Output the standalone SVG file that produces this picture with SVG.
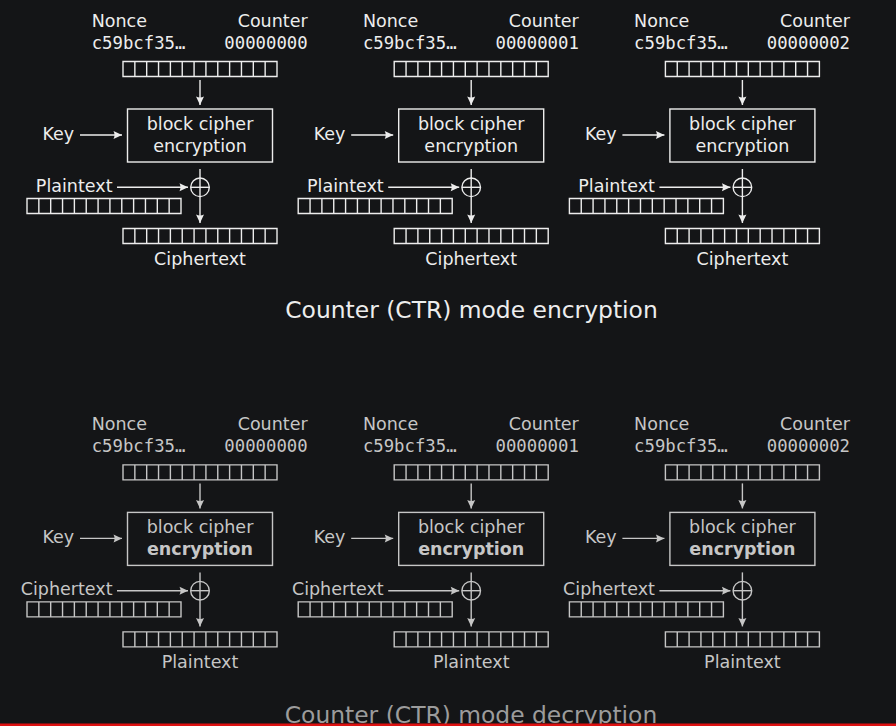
<svg xmlns="http://www.w3.org/2000/svg" xmlns:xlink="http://www.w3.org/1999/xlink" width="896" height="726" viewBox="0 0 896 726">
<style>
text{font-family:"DejaVu Sans","Noto Sans",sans-serif;font-size:17.5px}
.mono{font-family:"DejaVu Sans Mono","Liberation Mono",monospace;font-size:17.3px}
.mid{text-anchor:middle}
.end{text-anchor:end}
.top text{fill:#ededed}
.bot text{fill:#c6c6c6}
.top .ln{stroke:#ededed}
.bot .ln{stroke:#c6c6c6}
.ln{fill:none;stroke-width:1.4}
.title{font-size:23.4px;text-anchor:middle}
.b{font-weight:bold}
</style>
<defs>
<marker id="aT" viewBox="-9 -5 10 10" refX="0" refY="0" markerWidth="10" markerHeight="10" markerUnits="userSpaceOnUse" orient="auto"><path d="M0,0 L-8.5,-4 Q-6.5,0 -8.5,4 Z" fill="#ededed"/></marker>
<marker id="aB" viewBox="-9 -5 10 10" refX="0" refY="0" markerWidth="10" markerHeight="10" markerUnits="userSpaceOnUse" orient="auto"><path d="M0,0 L-8.5,-4 Q-6.5,0 -8.5,4 Z" fill="#c6c6c6"/></marker>
<path id="grid" d="M0,0H154V15H0Z M11.85,0V15 M23.69,0V15 M35.54,0V15 M47.38,0V15 M59.23,0V15 M71.08,0V15 M82.92,0V15 M94.77,0V15 M106.62,0V15 M118.46,0V15 M130.31,0V15 M142.15,0V15"/>
</defs>
<rect width="896" height="726" fill="#141517"/>

<!-- ===== Encryption ===== -->
<g class="top">
<g id="enc1" transform="translate(200,0)">
 <g id="enc1-counter"><text x="-108.3" y="26.7">Nonce</text><text class="end" x="107.6" y="26.7">Counter</text><text class="mono" x="-108.3" y="49">c59bcf35…</text><text class="mono end" x="107.6" y="49">00000000</text><use xlink:href="#grid" class="ln" transform="translate(-77,61.5)"/></g>
 <g id="enc1-cipher"><rect class="ln" x="-72.5" y="109" width="145" height="53"/><text class="mid" x="0" y="130">block cipher</text><text class="mid" x="0" y="151.5">encryption</text></g>
 <g id="enc1-key"><text x="-157.5" y="140">Key</text></g>
 <g id="enc1-in"><text class="end" x="-87.5" y="191.7">Plaintext</text><use xlink:href="#grid" class="ln" transform="translate(-173,198.5)"/></g>
 <g id="enc1-xor"><circle class="ln" cx="0" cy="187.3" r="9.3"/><path class="ln" d="M-9.3,187.3H9.3"/></g>
 <g id="enc1-out"><use xlink:href="#grid" class="ln" transform="translate(-77,228.5)"/><text class="mid" x="0" y="265">Ciphertext</text></g>
</g>
<g id="enc2" transform="translate(471.2,0)">
 <g id="enc2-counter"><text x="-108.3" y="26.7">Nonce</text><text class="end" x="107.6" y="26.7">Counter</text><text class="mono" x="-108.3" y="49">c59bcf35…</text><text class="mono end" x="107.6" y="49">00000001</text><use xlink:href="#grid" class="ln" transform="translate(-77,61.5)"/></g>
 <g id="enc2-cipher"><rect class="ln" x="-72.5" y="109" width="145" height="53"/><text class="mid" x="0" y="130">block cipher</text><text class="mid" x="0" y="151.5">encryption</text></g>
 <g id="enc2-key"><text x="-157.5" y="140">Key</text></g>
 <g id="enc2-in"><text class="end" x="-87.5" y="191.7">Plaintext</text><use xlink:href="#grid" class="ln" transform="translate(-173,198.5)"/></g>
 <g id="enc2-xor"><circle class="ln" cx="0" cy="187.3" r="9.3"/><path class="ln" d="M-9.3,187.3H9.3"/></g>
 <g id="enc2-out"><use xlink:href="#grid" class="ln" transform="translate(-77,228.5)"/><text class="mid" x="0" y="265">Ciphertext</text></g>
</g>
<g id="enc3" transform="translate(742.4,0)">
 <g id="enc3-counter"><text x="-108.3" y="26.7">Nonce</text><text class="end" x="107.6" y="26.7">Counter</text><text class="mono" x="-108.3" y="49">c59bcf35…</text><text class="mono end" x="107.6" y="49">00000002</text><use xlink:href="#grid" class="ln" transform="translate(-77,61.5)"/></g>
 <g id="enc3-cipher"><rect class="ln" x="-72.5" y="109" width="145" height="53"/><text class="mid" x="0" y="130">block cipher</text><text class="mid" x="0" y="151.5">encryption</text></g>
 <g id="enc3-key"><text x="-157.5" y="140">Key</text></g>
 <g id="enc3-in"><text class="end" x="-87.5" y="191.7">Plaintext</text><use xlink:href="#grid" class="ln" transform="translate(-173,198.5)"/></g>
 <g id="enc3-xor"><circle class="ln" cx="0" cy="187.3" r="9.3"/><path class="ln" d="M-9.3,187.3H9.3"/></g>
 <g id="enc3-out"><use xlink:href="#grid" class="ln" transform="translate(-77,228.5)"/><text class="mid" x="0" y="265">Ciphertext</text></g>
</g>
<g id="enc-title"><text class="title" x="471.5" y="318.3">Counter (CTR) mode encryption</text></g>
</g>

<!-- ===== Decryption ===== -->
<g class="bot">
<g id="dec1" transform="translate(200,403.4)">
 <g id="dec1-counter"><text x="-108.3" y="26.7">Nonce</text><text class="end" x="107.6" y="26.7">Counter</text><text class="mono" x="-108.3" y="49">c59bcf35…</text><text class="mono end" x="107.6" y="49">00000000</text><use xlink:href="#grid" class="ln" transform="translate(-77,61.5)"/></g>
 <g id="dec1-cipher"><rect class="ln" x="-72.5" y="109" width="145" height="53"/><text class="mid" x="0" y="130">block cipher</text><text class="mid b" x="0" y="151.5">encryption</text></g>
 <g id="dec1-key"><text x="-157.5" y="140">Key</text></g>
 <g id="dec1-in"><text class="end" x="-87.5" y="191.7">Ciphertext</text><use xlink:href="#grid" class="ln" transform="translate(-173,198.5)"/></g>
 <g id="dec1-xor"><circle class="ln" cx="0" cy="187.3" r="9.3"/><path class="ln" d="M-9.3,187.3H9.3"/></g>
 <g id="dec1-out"><use xlink:href="#grid" class="ln" transform="translate(-77,228.5)"/><text class="mid" x="0" y="265">Plaintext</text></g>
</g>
<g id="dec2" transform="translate(471.2,403.4)">
 <g id="dec2-counter"><text x="-108.3" y="26.7">Nonce</text><text class="end" x="107.6" y="26.7">Counter</text><text class="mono" x="-108.3" y="49">c59bcf35…</text><text class="mono end" x="107.6" y="49">00000001</text><use xlink:href="#grid" class="ln" transform="translate(-77,61.5)"/></g>
 <g id="dec2-cipher"><rect class="ln" x="-72.5" y="109" width="145" height="53"/><text class="mid" x="0" y="130">block cipher</text><text class="mid b" x="0" y="151.5">encryption</text></g>
 <g id="dec2-key"><text x="-157.5" y="140">Key</text></g>
 <g id="dec2-in"><text class="end" x="-87.5" y="191.7">Ciphertext</text><use xlink:href="#grid" class="ln" transform="translate(-173,198.5)"/></g>
 <g id="dec2-xor"><circle class="ln" cx="0" cy="187.3" r="9.3"/><path class="ln" d="M-9.3,187.3H9.3"/></g>
 <g id="dec2-out"><use xlink:href="#grid" class="ln" transform="translate(-77,228.5)"/><text class="mid" x="0" y="265">Plaintext</text></g>
</g>
<g id="dec3" transform="translate(742.4,403.4)">
 <g id="dec3-counter"><text x="-108.3" y="26.7">Nonce</text><text class="end" x="107.6" y="26.7">Counter</text><text class="mono" x="-108.3" y="49">c59bcf35…</text><text class="mono end" x="107.6" y="49">00000002</text><use xlink:href="#grid" class="ln" transform="translate(-77,61.5)"/></g>
 <g id="dec3-cipher"><rect class="ln" x="-72.5" y="109" width="145" height="53"/><text class="mid" x="0" y="130">block cipher</text><text class="mid b" x="0" y="151.5">encryption</text></g>
 <g id="dec3-key"><text x="-157.5" y="140">Key</text></g>
 <g id="dec3-in"><text class="end" x="-87.5" y="191.7">Ciphertext</text><use xlink:href="#grid" class="ln" transform="translate(-173,198.5)"/></g>
 <g id="dec3-xor"><circle class="ln" cx="0" cy="187.3" r="9.3"/><path class="ln" d="M-9.3,187.3H9.3"/></g>
 <g id="dec3-out"><use xlink:href="#grid" class="ln" transform="translate(-77,228.5)"/><text class="mid" x="0" y="265">Plaintext</text></g>
</g>
<g id="dec-title"><text class="title" x="471" y="722.5" style="fill:#9c9c9c">Counter (CTR) mode decryption</text></g>
</g>

<!-- ===== Connectors ===== -->
<g id="connectors">
 <g class="top">
  <g transform="translate(200,0)"><path class="ln" d="M0,80V105" marker-end="url(#aT)"/><path class="ln" d="M-120,135H-78" marker-end="url(#aT)"/><path class="ln" d="M-83,187.3H-12" marker-end="url(#aT)"/><path class="ln" d="M0,169V223" marker-end="url(#aT)"/></g>
  <g transform="translate(471.2,0)"><path class="ln" d="M0,80V105" marker-end="url(#aT)"/><path class="ln" d="M-120,135H-78" marker-end="url(#aT)"/><path class="ln" d="M-83,187.3H-12" marker-end="url(#aT)"/><path class="ln" d="M0,169V223" marker-end="url(#aT)"/></g>
  <g transform="translate(742.4,0)"><path class="ln" d="M0,80V105" marker-end="url(#aT)"/><path class="ln" d="M-120,135H-78" marker-end="url(#aT)"/><path class="ln" d="M-83,187.3H-12" marker-end="url(#aT)"/><path class="ln" d="M0,169V223" marker-end="url(#aT)"/></g>
 </g>
 <g class="bot">
  <g transform="translate(200,403.4)"><path class="ln" d="M0,80V105" marker-end="url(#aB)"/><path class="ln" d="M-120,135H-78" marker-end="url(#aB)"/><path class="ln" d="M-83,187.3H-12" marker-end="url(#aB)"/><path class="ln" d="M0,169V223" marker-end="url(#aB)"/></g>
  <g transform="translate(471.2,403.4)"><path class="ln" d="M0,80V105" marker-end="url(#aB)"/><path class="ln" d="M-120,135H-78" marker-end="url(#aB)"/><path class="ln" d="M-83,187.3H-12" marker-end="url(#aB)"/><path class="ln" d="M0,169V223" marker-end="url(#aB)"/></g>
  <g transform="translate(742.4,403.4)"><path class="ln" d="M0,80V105" marker-end="url(#aB)"/><path class="ln" d="M-120,135H-78" marker-end="url(#aB)"/><path class="ln" d="M-83,187.3H-12" marker-end="url(#aB)"/><path class="ln" d="M0,169V223" marker-end="url(#aB)"/></g>
 </g>
</g>

<rect x="0" y="723.5" width="896" height="2.5" fill="#dd1111"/>
</svg>
